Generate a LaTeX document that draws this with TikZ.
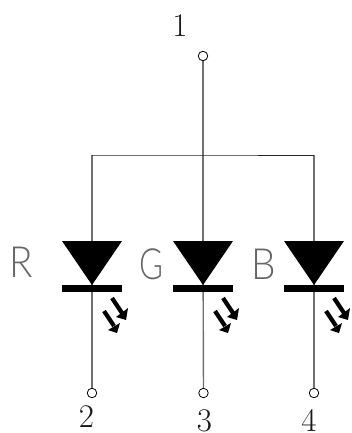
\documentclass[tikz,border=0pt]{standalone}
\usepackage{fontspec}
\newfontfamily\thinfont{Lato Light}
\definecolor{wire}{HTML}{707070}
\tikzset{
  x=1pt,y=-1pt,
  pin/.style={circle,draw=black,fill=white,line width=0.8pt,minimum size=9.5pt,inner sep=0pt},
  vwire/.style={draw=wire,line width=1.4pt},
  hwire/.style={draw=black!85,line width=0.9pt},
  num/.style={font=\fontsize{33}{33}\selectfont,inner sep=0pt,text=black!90},
  letter/.style={font=\thinfont\fontsize{43}{43}\selectfont,inner sep=0pt,text=black!60},
  ray/.style={line width=4.2pt,draw=black},
  rayhead/.style={fill=black,draw=none},
  diode/.pic={
    \fill (-30,0) -- (30,0) -- (0,44) -- cycle;
    \fill (-30,44) rectangle (30,51);
    % light rays
    \draw[ray] (20,57) -- (30,72);
    \fill[rayhead] (34,79) -- (24,76) -- (36,67) -- cycle;
    \draw[ray] (12,70) -- (22,85);
    \fill[rayhead] (25,92) -- (16,89) -- (28,82) -- cycle;
  }
}
\begin{document}
\begin{tikzpicture}
\useasboundingbox (0,0) rectangle (352,433);
\fill[white] (0,0) rectangle (352,433);
\coordinate (busL) at (92,155);
\coordinate (busM) at (203,155);
\coordinate (busR) at (314,155);
\coordinate (dA) at (92,241);
\coordinate (dB) at (203,241);
\coordinate (dC) at (314,241);
\node[pin] (p1) at (203,56) {};
\node[pin] (p2) at (92,393) {};
\node[pin] (p3) at (203.5,393) {};
\node[pin] (p4) at (314,393) {};
\draw[vwire] (p1) -- (dB);
\draw[vwire] (busL) -- (dA);
\draw[vwire] (busR) -- (dC);
\draw[vwire] (dA) -- (p2);
\draw[vwire] (dB) -- (p3);
\draw[vwire] (dC) -- (p4);
\draw[hwire] (busL) -- (busM) -- (busR);
\pic at (dA) {diode};
\pic at (dB) {diode};
\pic at (dC) {diode};
\node[num] (n1) at (180,26) {1};
\node[num] (n2) at (86.5,416.5) {2};
\node[num] (n3) at (204.5,421) {3};
\node[num] (n4) at (309,420.5) {4};
\node[letter,xscale=.9] (lR) at (21,262) {R};
\node[letter,xscale=.76] (lG) at (152,264) {G};
\node[letter,xscale=.9] (lB) at (264,264) {B};
\end{tikzpicture}
\end{document}
